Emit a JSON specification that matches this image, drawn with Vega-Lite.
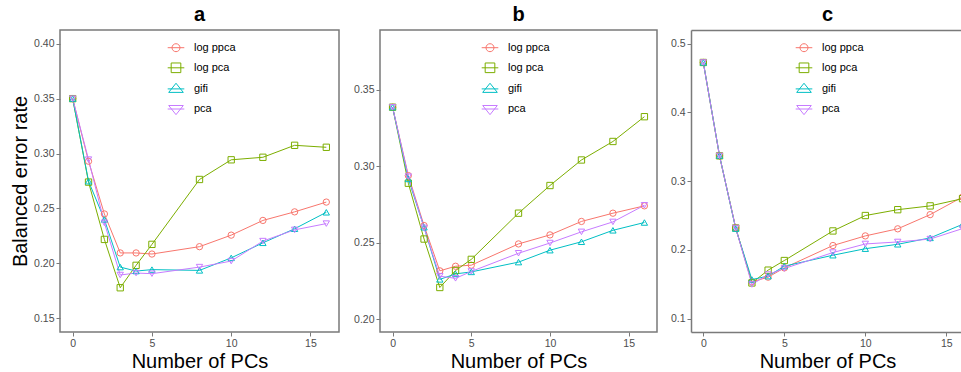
{
  "$schema": "https://vega.github.io/schema/vega-lite/v6.json",
  "background": "white",
  "padding": {"left": 9, "top": 4, "right": 0, "bottom": 0},
  "datasets": {
    "panel_a": [
      {"method": "log ppca", "pcs": 0, "rate": 0.350}, {"method": "log ppca", "pcs": 1, "rate": 0.293}, {"method": "log ppca", "pcs": 2, "rate": 0.245}, {"method": "log ppca", "pcs": 3, "rate": 0.2095}, {"method": "log ppca", "pcs": 4, "rate": 0.2095}, {"method": "log ppca", "pcs": 5, "rate": 0.2085}, {"method": "log ppca", "pcs": 8, "rate": 0.2152}, {"method": "log ppca", "pcs": 10, "rate": 0.2257}, {"method": "log ppca", "pcs": 12, "rate": 0.2391}, {"method": "log ppca", "pcs": 14, "rate": 0.2469}, {"method": "log ppca", "pcs": 16, "rate": 0.2558},
      {"method": "log pca", "pcs": 0, "rate": 0.350}, {"method": "log pca", "pcs": 1, "rate": 0.274}, {"method": "log pca", "pcs": 2, "rate": 0.2218}, {"method": "log pca", "pcs": 3, "rate": 0.1778}, {"method": "log pca", "pcs": 4, "rate": 0.1982}, {"method": "log pca", "pcs": 5, "rate": 0.2173}, {"method": "log pca", "pcs": 8, "rate": 0.2764}, {"method": "log pca", "pcs": 10, "rate": 0.2943}, {"method": "log pca", "pcs": 12, "rate": 0.2966}, {"method": "log pca", "pcs": 14, "rate": 0.3075}, {"method": "log pca", "pcs": 16, "rate": 0.3057},
      {"method": "gifi", "pcs": 0, "rate": 0.350}, {"method": "gifi", "pcs": 1, "rate": 0.2748}, {"method": "gifi", "pcs": 2, "rate": 0.240}, {"method": "gifi", "pcs": 3, "rate": 0.1966}, {"method": "gifi", "pcs": 4, "rate": 0.193}, {"method": "gifi", "pcs": 5, "rate": 0.1943}, {"method": "gifi", "pcs": 8, "rate": 0.1936}, {"method": "gifi", "pcs": 10, "rate": 0.2050}, {"method": "gifi", "pcs": 12, "rate": 0.2187}, {"method": "gifi", "pcs": 14, "rate": 0.2315}, {"method": "gifi", "pcs": 16, "rate": 0.2465},
      {"method": "pca", "pcs": 0, "rate": 0.350}, {"method": "pca", "pcs": 1, "rate": 0.2945}, {"method": "pca", "pcs": 2, "rate": 0.2369}, {"method": "pca", "pcs": 3, "rate": 0.1894}, {"method": "pca", "pcs": 4, "rate": 0.1912}, {"method": "pca", "pcs": 5, "rate": 0.1906}, {"method": "pca", "pcs": 8, "rate": 0.1966}, {"method": "pca", "pcs": 10, "rate": 0.2021}, {"method": "pca", "pcs": 12, "rate": 0.2203}, {"method": "pca", "pcs": 14, "rate": 0.2305}, {"method": "pca", "pcs": 16, "rate": 0.2362}
    ],
    "panel_b": [
      {"method": "log ppca", "pcs": 0, "rate": 0.3385}, {"method": "log ppca", "pcs": 1, "rate": 0.2938}, {"method": "log ppca", "pcs": 2, "rate": 0.2611}, {"method": "log ppca", "pcs": 3, "rate": 0.2315}, {"method": "log ppca", "pcs": 4, "rate": 0.2345}, {"method": "log ppca", "pcs": 5, "rate": 0.2352}, {"method": "log ppca", "pcs": 8, "rate": 0.2491}, {"method": "log ppca", "pcs": 10, "rate": 0.2550}, {"method": "log ppca", "pcs": 12, "rate": 0.2638}, {"method": "log ppca", "pcs": 14, "rate": 0.2692}, {"method": "log ppca", "pcs": 16, "rate": 0.2740},
      {"method": "log pca", "pcs": 0, "rate": 0.3385}, {"method": "log pca", "pcs": 1, "rate": 0.2888}, {"method": "log pca", "pcs": 2, "rate": 0.2523}, {"method": "log pca", "pcs": 3, "rate": 0.2206}, {"method": "log pca", "pcs": 4, "rate": 0.2317}, {"method": "log pca", "pcs": 5, "rate": 0.2390}, {"method": "log pca", "pcs": 8, "rate": 0.2692}, {"method": "log pca", "pcs": 10, "rate": 0.2873}, {"method": "log pca", "pcs": 12, "rate": 0.3040}, {"method": "log pca", "pcs": 14, "rate": 0.3161}, {"method": "log pca", "pcs": 16, "rate": 0.3323},
      {"method": "gifi", "pcs": 0, "rate": 0.3385}, {"method": "gifi", "pcs": 1, "rate": 0.2916}, {"method": "gifi", "pcs": 2, "rate": 0.2600}, {"method": "gifi", "pcs": 3, "rate": 0.2259}, {"method": "gifi", "pcs": 4, "rate": 0.2295}, {"method": "gifi", "pcs": 5, "rate": 0.2308}, {"method": "gifi", "pcs": 8, "rate": 0.2372}, {"method": "gifi", "pcs": 10, "rate": 0.2450}, {"method": "gifi", "pcs": 12, "rate": 0.2505}, {"method": "gifi", "pcs": 14, "rate": 0.2580}, {"method": "gifi", "pcs": 16, "rate": 0.2631},
      {"method": "pca", "pcs": 0, "rate": 0.3385}, {"method": "pca", "pcs": 1, "rate": 0.2931}, {"method": "pca", "pcs": 2, "rate": 0.2596}, {"method": "pca", "pcs": 3, "rate": 0.2280}, {"method": "pca", "pcs": 4, "rate": 0.2266}, {"method": "pca", "pcs": 5, "rate": 0.2311}, {"method": "pca", "pcs": 8, "rate": 0.2430}, {"method": "pca", "pcs": 10, "rate": 0.2497}, {"method": "pca", "pcs": 12, "rate": 0.2570}, {"method": "pca", "pcs": 14, "rate": 0.2635}, {"method": "pca", "pcs": 16, "rate": 0.2744}
    ],
    "panel_c": [
      {"method": "log ppca", "pcs": 0, "rate": 0.4725}, {"method": "log ppca", "pcs": 1, "rate": 0.3368}, {"method": "log ppca", "pcs": 2, "rate": 0.2319}, {"method": "log ppca", "pcs": 3, "rate": 0.1536}, {"method": "log ppca", "pcs": 4, "rate": 0.1604}, {"method": "log ppca", "pcs": 5, "rate": 0.1739}, {"method": "log ppca", "pcs": 8, "rate": 0.2064}, {"method": "log ppca", "pcs": 10, "rate": 0.2204}, {"method": "log ppca", "pcs": 12, "rate": 0.2307}, {"method": "log ppca", "pcs": 14, "rate": 0.2513}, {"method": "log ppca", "pcs": 16, "rate": 0.2770},
      {"method": "log pca", "pcs": 0, "rate": 0.4725}, {"method": "log pca", "pcs": 1, "rate": 0.3368}, {"method": "log pca", "pcs": 2, "rate": 0.2319}, {"method": "log pca", "pcs": 3, "rate": 0.1520}, {"method": "log pca", "pcs": 4, "rate": 0.1706}, {"method": "log pca", "pcs": 5, "rate": 0.1846}, {"method": "log pca", "pcs": 8, "rate": 0.2276}, {"method": "log pca", "pcs": 10, "rate": 0.2500}, {"method": "log pca", "pcs": 12, "rate": 0.2585}, {"method": "log pca", "pcs": 14, "rate": 0.2640}, {"method": "log pca", "pcs": 16, "rate": 0.2745},
      {"method": "gifi", "pcs": 0, "rate": 0.4725}, {"method": "gifi", "pcs": 1, "rate": 0.3372}, {"method": "gifi", "pcs": 2, "rate": 0.2310}, {"method": "gifi", "pcs": 3, "rate": 0.1570}, {"method": "gifi", "pcs": 4, "rate": 0.1619}, {"method": "gifi", "pcs": 5, "rate": 0.1764}, {"method": "gifi", "pcs": 8, "rate": 0.1923}, {"method": "gifi", "pcs": 10, "rate": 0.2018}, {"method": "gifi", "pcs": 12, "rate": 0.2082}, {"method": "gifi", "pcs": 14, "rate": 0.2175}, {"method": "gifi", "pcs": 16, "rate": 0.2372},
      {"method": "pca", "pcs": 0, "rate": 0.4725}, {"method": "pca", "pcs": 1, "rate": 0.3368}, {"method": "pca", "pcs": 2, "rate": 0.2319}, {"method": "pca", "pcs": 3, "rate": 0.1498}, {"method": "pca", "pcs": 4, "rate": 0.1643}, {"method": "pca", "pcs": 5, "rate": 0.1730}, {"method": "pca", "pcs": 8, "rate": 0.1962}, {"method": "pca", "pcs": 10, "rate": 0.2087}, {"method": "pca", "pcs": 12, "rate": 0.2116}, {"method": "pca", "pcs": 14, "rate": 0.2158}, {"method": "pca", "pcs": 16, "rate": 0.2310}
    ]
  },
  "resolve": {
    "scale": {"color": "independent", "shape": "independent", "size": "independent"},
    "legend": {"color": "independent", "shape": "independent"}
  },
  "hconcat": [
    {
      "data": {"name": "panel_a"},
      "width": 279,
      "height": 302,
      "title": {"text": "a"},
      "resolve": {"scale": {"shape": "independent"}, "legend": {"color": "independent", "shape": "independent"}},
      "encoding": {
        "x": {"field": "pcs", "type": "quantitative",
              "scale": {"domain": [-0.8, 16.8], "nice": false, "zero": false},
              "axis": {"values": [0, 5, 10, 15], "format": "d", "title": "Number of PCs"}},
        "y": {"field": "rate", "type": "quantitative",
              "scale": {"domain": [0.1375, 0.4125], "nice": false, "zero": false},
              "axis": {"values": [0.15, 0.2, 0.25, 0.3, 0.35, 0.4], "format": ".2f", "title": "Balanced error rate"}}
      },
      "layer": [
        {"mark": {"type": "line", "strokeWidth": 1},
         "encoding": {
           "color": {"field": "method", "type": "nominal", "scale": {"domain": ["log ppca", "log pca", "gifi", "pca"], "range": ["#F8766D", "#7CAE00", "#00BFC4", "#C77CFF"]}, "legend": null}
         }},
        {"mark": {"type": "point", "filled": false, "strokeWidth": 1, "opacity": 1},
         "encoding": {
           "color": {"field": "method", "type": "nominal", "scale": {"domain": ["log ppca", "log pca", "gifi", "pca"], "range": ["#F8766D", "#7CAE00", "#00BFC4", "#C77CFF"]}, "legend": null},
           "shape": {"field": "method", "type": "nominal", "scale": {"domain": ["log ppca", "log pca", "gifi", "pca"], "range": ["circle", "square", "triangle-up", "triangle-down"]}, "legend": null},
           "size": {"field": "method", "type": "nominal", "scale": {"domain": ["log ppca", "log pca", "gifi", "pca"], "range": [40, 40, 75, 75]}, "legend": null}
         }},
        {"mark": {"type": "point", "filled": false, "strokeWidth": 1, "opacity": 0},
         "encoding": {
           "color": {"field": "method", "type": "nominal", "scale": {"domain": ["log ppca", "log pca", "gifi", "pca"], "range": ["#F8766D", "#7CAE00", "#00BFC4", "#C77CFF"]},
                     "legend": {"orient": "none", "legendX": 107, "legendY": 8.7, "title": null, "symbolSize": 276, "symbolStrokeWidth": 1, "symbolOpacity": 1,
                                "labelColor": "#000000", "labelFontSize": 11, "labelOffset": 9, "rowPadding": 5.1, "padding": 0}},
           "shape": {"field": "method", "type": "nominal",
                     "scale": {"domain": ["log ppca", "log pca", "gifi", "pca"],
                               "range": ["M-1,0H1M0.48,0A0.48,0.48,0,1,1,-0.48,0A0.48,0.48,0,1,1,0.48,0Z", "M-1,0H1M-0.58,-0.58H0.58V0.58H-0.58Z", "M-1,0H1M0,-0.68L0.88,0.42L-0.88,0.42Z", "M-1,0H1M0,0.68L0.88,-0.42L-0.88,-0.42Z"]},
                     "legend": {"orient": "none", "legendX": 107, "legendY": 8.7, "title": null, "symbolSize": 276, "symbolStrokeWidth": 1, "symbolOpacity": 1,
                                "labelColor": "#000000", "labelFontSize": 11, "labelOffset": 9, "rowPadding": 5.1, "padding": 0}}
         }}
      ]
    },
    {
      "data": {"name": "panel_b"},
      "width": 277,
      "height": 302,
      "title": {"text": "b"},
      "resolve": {"scale": {"shape": "independent"}, "legend": {"color": "independent", "shape": "independent"}},
      "encoding": {
        "x": {"field": "pcs", "type": "quantitative",
              "scale": {"domain": [-0.8, 16.8], "nice": false, "zero": false},
              "axis": {"values": [0, 5, 10, 15], "format": "d", "title": "Number of PCs"}},
        "y": {"field": "rate", "type": "quantitative",
              "scale": {"domain": [0.1915, 0.3890], "nice": false, "zero": false},
              "axis": {"values": [0.2, 0.25, 0.3, 0.35], "format": ".2f", "title": null}}
      },
      "layer": [
        {"mark": {"type": "line", "strokeWidth": 1},
         "encoding": {
           "color": {"field": "method", "type": "nominal", "scale": {"domain": ["log ppca", "log pca", "gifi", "pca"], "range": ["#F8766D", "#7CAE00", "#00BFC4", "#C77CFF"]}, "legend": null}
         }},
        {"mark": {"type": "point", "filled": false, "strokeWidth": 1, "opacity": 1},
         "encoding": {
           "color": {"field": "method", "type": "nominal", "scale": {"domain": ["log ppca", "log pca", "gifi", "pca"], "range": ["#F8766D", "#7CAE00", "#00BFC4", "#C77CFF"]}, "legend": null},
           "shape": {"field": "method", "type": "nominal", "scale": {"domain": ["log ppca", "log pca", "gifi", "pca"], "range": ["circle", "square", "triangle-up", "triangle-down"]}, "legend": null},
           "size": {"field": "method", "type": "nominal", "scale": {"domain": ["log ppca", "log pca", "gifi", "pca"], "range": [40, 40, 75, 75]}, "legend": null}
         }},
        {"mark": {"type": "point", "filled": false, "strokeWidth": 1, "opacity": 0},
         "encoding": {
           "color": {"field": "method", "type": "nominal", "scale": {"domain": ["log ppca", "log pca", "gifi", "pca"], "range": ["#F8766D", "#7CAE00", "#00BFC4", "#C77CFF"]},
                     "legend": {"orient": "none", "legendX": 101, "legendY": 8.7, "title": null, "symbolSize": 276, "symbolStrokeWidth": 1, "symbolOpacity": 1,
                                "labelColor": "#000000", "labelFontSize": 11, "labelOffset": 9, "rowPadding": 5.1, "padding": 0}},
           "shape": {"field": "method", "type": "nominal",
                     "scale": {"domain": ["log ppca", "log pca", "gifi", "pca"],
                               "range": ["M-1,0H1M0.48,0A0.48,0.48,0,1,1,-0.48,0A0.48,0.48,0,1,1,0.48,0Z", "M-1,0H1M-0.58,-0.58H0.58V0.58H-0.58Z", "M-1,0H1M0,-0.68L0.88,0.42L-0.88,0.42Z", "M-1,0H1M0,0.68L0.88,-0.42L-0.88,-0.42Z"]},
                     "legend": {"orient": "none", "legendX": 101, "legendY": 8.7, "title": null, "symbolSize": 276, "symbolStrokeWidth": 1, "symbolOpacity": 1,
                                "labelColor": "#000000", "labelFontSize": 11, "labelOffset": 9, "rowPadding": 5.1, "padding": 0}}
         }}
      ]
    },
    {
      "data": {"name": "panel_c"},
      "width": 273,
      "height": 302,
      "title": {"text": "c"},
      "view": {"stroke": null},
      "resolve": {"axis": {"x": "independent"}, "scale": {"shape": "independent"}, "legend": {"color": "independent", "shape": "independent"}},
      "encoding": {
        "y": {"field": "rate", "type": "quantitative",
              "scale": {"domain": [0.0807, 0.5197], "nice": false, "zero": false},
              "axis": {"values": [0.1, 0.2, 0.3, 0.4, 0.5], "format": ".1f", "title": null, "domain": true, "domainColor": "#7a7a7a", "domainWidth": 1.5}}
      },
      "layer": [
        {"mark": {"type": "line", "strokeWidth": 1, "clip": true},
         "encoding": {
           "x": {"field": "pcs", "type": "quantitative",
                 "scale": {"domain": [-0.76, 16.09], "nice": false, "zero": false},
                 "axis": {"values": [0, 5, 10, 15], "format": "d", "title": "Number of PCs", "domain": true, "domainColor": "#7a7a7a", "domainWidth": 1.5}},
           "color": {"field": "method", "type": "nominal", "scale": {"domain": ["log ppca", "log pca", "gifi", "pca"], "range": ["#F8766D", "#7CAE00", "#00BFC4", "#C77CFF"]}, "legend": null}
         }},
        {"mark": {"type": "point", "filled": false, "strokeWidth": 1, "opacity": 1, "clip": true},
         "encoding": {
           "x": {"field": "pcs", "type": "quantitative", "axis": null},
           "color": {"field": "method", "type": "nominal", "scale": {"domain": ["log ppca", "log pca", "gifi", "pca"], "range": ["#F8766D", "#7CAE00", "#00BFC4", "#C77CFF"]}, "legend": null},
           "shape": {"field": "method", "type": "nominal", "scale": {"domain": ["log ppca", "log pca", "gifi", "pca"], "range": ["circle", "square", "triangle-up", "triangle-down"]}, "legend": null},
           "size": {"field": "method", "type": "nominal", "scale": {"domain": ["log ppca", "log pca", "gifi", "pca"], "range": [40, 40, 75, 75]}, "legend": null}
         }},
        {"mark": {"type": "point", "filled": false, "strokeWidth": 1, "opacity": 0, "clip": true},
         "encoding": {
           "x": {"field": "pcs", "type": "quantitative",
                 "axis": {"orient": "top", "labels": false, "ticks": false, "title": null, "domain": true, "domainColor": "#7a7a7a", "domainWidth": 1.5}},
           "color": {"field": "method", "type": "nominal", "scale": {"domain": ["log ppca", "log pca", "gifi", "pca"], "range": ["#F8766D", "#7CAE00", "#00BFC4", "#C77CFF"]},
                     "legend": {"orient": "none", "legendX": 104, "legendY": 8.7, "title": null, "symbolSize": 276, "symbolStrokeWidth": 1, "symbolOpacity": 1,
                                "labelColor": "#000000", "labelFontSize": 11, "labelOffset": 9, "rowPadding": 5.1, "padding": 0}},
           "shape": {"field": "method", "type": "nominal",
                     "scale": {"domain": ["log ppca", "log pca", "gifi", "pca"],
                               "range": ["M-1,0H1M0.48,0A0.48,0.48,0,1,1,-0.48,0A0.48,0.48,0,1,1,0.48,0Z", "M-1,0H1M-0.58,-0.58H0.58V0.58H-0.58Z", "M-1,0H1M0,-0.68L0.88,0.42L-0.88,0.42Z", "M-1,0H1M0,0.68L0.88,-0.42L-0.88,-0.42Z"]},
                     "legend": {"orient": "none", "legendX": 104, "legendY": 8.7, "title": null, "symbolSize": 276, "symbolStrokeWidth": 1, "symbolOpacity": 1,
                                "labelColor": "#000000", "labelFontSize": 11, "labelOffset": 9, "rowPadding": 5.1, "padding": 0}}
         }}
      ]
    }
  ],
  "config": {
    "font": "Liberation Sans",
    "concat": {"spacing": 12},
    "view": {"stroke": "#7a7a7a", "strokeWidth": 1.5},
    "axis": {
      "grid": false, "domain": false,
      "labelFont": "Liberation Sans", "labelFontSize": 10.5, "labelColor": "#4d4d4d", "labelPadding": 2,
      "tickColor": "#7a7a7a", "tickSize": 4, "tickWidth": 1,
      "titleFont": "Liberation Sans", "titleFontSize": 20, "titleFontWeight": "normal", "titleColor": "#000000", "titlePadding": 3
    },
    "legend": {"labelFont": "Liberation Sans"},
    "title": {"font": "Liberation Sans", "fontSize": 20, "fontWeight": "bold", "color": "#000000", "anchor": "middle", "offset": 5}
  }
}
